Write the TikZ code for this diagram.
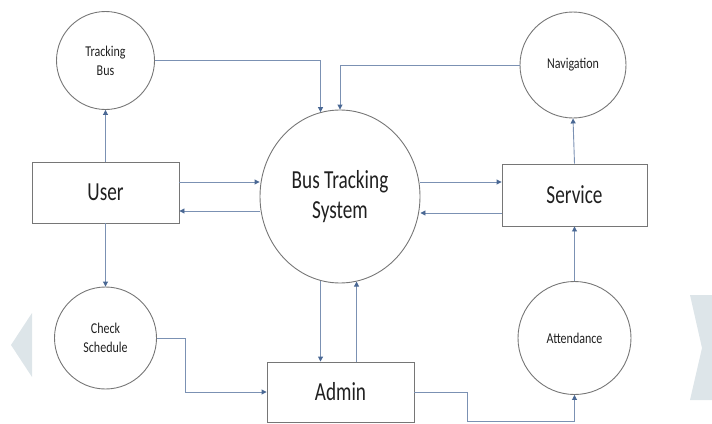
\documentclass[tikz,border=0pt]{standalone}
\usepackage{fontspec}
\setmainfont{Carlito}
\usetikzlibrary{arrows.meta,shapes.geometric,calc}
\definecolor{lnc}{HTML}{7B91B3}
\definecolor{arc}{HTML}{4A6894}
\definecolor{bdc}{HTML}{767676}
\definecolor{chev}{HTML}{DDE5E9}
\definecolor{txc}{HTML}{202020}
\newcommand{\bigt}[1]{\scalebox{0.74}[1]{#1}}
\newcommand{\smt}[1]{\scalebox{0.8}[1]{#1}}
\begin{document}
\begin{tikzpicture}[x=1pt,y=-1pt,
  proc/.style={circle,draw=bdc,line width=0.9pt,minimum size=#1,inner sep=0pt,align=center,text=txc,font=\fontsize{15}{19}\selectfont},
  ent/.style={rectangle,draw=bdc,line width=0.9pt,inner sep=0pt,text=txc,font=\fontsize{26}{30}\selectfont},
  flow/.style={draw=lnc,line width=0.9pt,-{Triangle[length=5pt,width=5pt,color=arc]}}]
\useasboundingbox (0,0) rectangle (712,423);
% decorative chevrons at the edges
\fill[chev] (32,313) -- (11,345) -- (32,377) -- cycle;
\fill[chev] (690,295) -- (712,295) -- (712,400) -- (690,400) -- (702,348) -- cycle;
% nodes
\node[proc=98pt] (tb) at (105.5,60.5) {\smt{Tracking}\\\smt{Bus}};
\node[proc=106pt] (nav) at (573,65) {\smt{Navigation}};
\node[proc=102pt] (cs) at (105.5,338) {\smt{Check}\\\smt{Schedule}};
\node[proc=113pt] (att) at (574.5,338) {\smt{Attendance}};
\node[ellipse,draw=bdc,line width=0.9pt,minimum width=160pt,minimum height=173pt,inner sep=0pt,align=center,text=txc,font=\fontsize{26}{30}\selectfont] (bts) at (340,196.5) {\bigt{Bus Tracking}\\\bigt{System}};
\node[ent,minimum width=147pt,minimum height=61pt] (user) at (105.5,192.5) {\bigt{User}};
\node[ent,minimum width=145pt,minimum height=62pt] (serv) at (574.5,195) {\bigt{Service}};
\node[ent,minimum width=147pt,minimum height=60pt] (admin) at (340.5,392) {\bigt{Admin}};
% connectors
\draw[flow] (user.north) -- (tb.south);
\draw[flow] (tb.east) -| (bts.103);
\draw[flow] (nav.west) -| (bts.north);
\draw[flow] ([yshift=10.5pt]user.east) -- ([yshift=10.5pt]user.east -| bts.west);
\draw[flow] ([yshift=-18.5pt]user.east -| bts.west) -- ([yshift=-18.5pt]user.east);
\draw[flow] ([yshift=13pt]serv.west -| bts.east) -- ([yshift=13pt]serv.west);
\draw[flow] ([yshift=-18pt]serv.west) -- ([yshift=-18pt]serv.west -| bts.east);
\draw[flow] (serv.north) -- (nav.south);
\draw[flow] (att.north) -- (serv.south);
\draw[flow] (user.south) -- (cs.north);
\draw[flow] (cs.east) -- ++(28,0) |- (admin.west);
\draw[flow] (bts.257) -- (bts.257 |- admin.north);
\draw[flow] (bts.281 |- admin.north) -- (bts.281);
\draw[flow] (admin.east) -- ++(53,0) -- ++(0,29) -| (att.south);
\end{tikzpicture}
\end{document}
